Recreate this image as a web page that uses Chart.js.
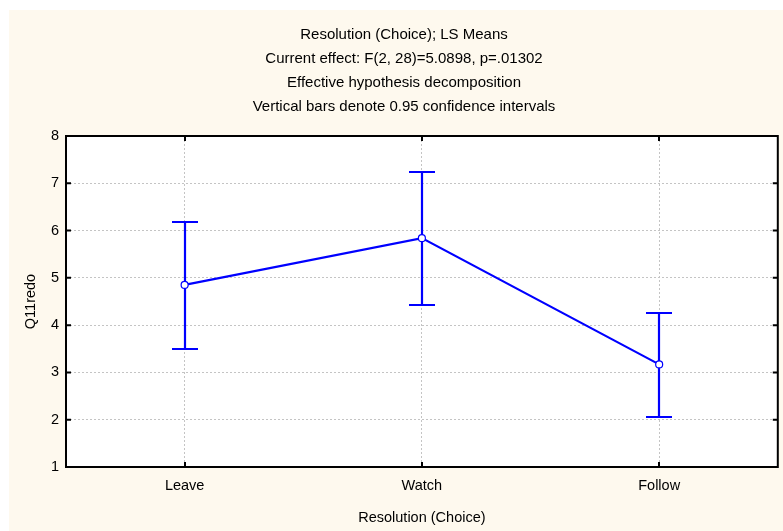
<!DOCTYPE html>
<html lang="en">
<head>
    <meta charset="UTF-8">
    <title>Resolution (Choice); LS Means</title>
    <script src="https://cdn.jsdelivr.net/npm/chart.js"></script>
    <style>
        body {
            margin: 0;
            padding: 0;
            background-color: #fff;
        }

        .chart-container {
            width: 783px;
            height: 531px;
        }
    </style>
</head>
<body>
<div class="chart-container">
    <canvas id="meansChart"></canvas>
</div>

<script>
    // Datos: medias y límites del intervalo de confianza al 95%
    const categories = ['Leave', 'Watch', 'Follow'];
    const means = [4.85, 5.84, 3.17];
    const lowerCI = [3.50, 4.43, 2.05];
    const upperCI = [6.19, 7.23, 4.26];
    const yMin = 1;
    const yMax = 8;

    const titleLines = [
        'Resolution (Choice); LS Means',
        'Current effect: F(2, 28)=5.0898, p=.01302',
        'Effective hypothesis decomposition',
        'Vertical bars denote 0.95 confidence intervals'
    ];
    const xTitle = 'Resolution (Choice)';
    const yTitle = 'Q11redo';

    const blue = '#0000FF';
    const fontFamily = '"Liberation Sans", Arial, sans-serif';

    // Fondo crema y área del gráfico blanca
    const backgroundPlugin = {
        id: 'background',
        beforeDraw(chart) {
            const ctx = chart.ctx;
            const a = chart.chartArea;
            ctx.save();
            ctx.fillStyle = '#FEF9EE';
            ctx.fillRect(9, 10, chart.width - 9, chart.height - 10);
            ctx.fillStyle = '#FFFFFF';
            ctx.fillRect(a.left, a.top, a.right - a.left, a.bottom - a.top);
            ctx.restore();
        }
    };

    // Barras verticales de los intervalos de confianza
    const errorBarsPlugin = {
        id: 'errorBars',
        beforeDatasetsDraw(chart) {
            const ctx = chart.ctx;
            const xs = chart.scales.x;
            const ys = chart.scales.y;
            ctx.save();
            ctx.strokeStyle = blue;
            ctx.lineWidth = 2.2;
            for (let i = 0; i < categories.length; i++) {
                const x = Math.round(xs.getPixelForValue(i));
                const yl = Math.round(ys.getPixelForValue(lowerCI[i]));
                const yu = Math.round(ys.getPixelForValue(upperCI[i]));
                ctx.beginPath();
                ctx.moveTo(x, yl);
                ctx.lineTo(x, yu);
                ctx.moveTo(x - 13, yu);
                ctx.lineTo(x + 13, yu);
                ctx.moveTo(x - 13, yl);
                ctx.lineTo(x + 13, yl);
                ctx.stroke();
            }
            ctx.restore();
        }
    };

    // Marco negro con marcas hacia dentro
    const framePlugin = {
        id: 'frame',
        afterDraw(chart) {
            const ctx = chart.ctx;
            const a = chart.chartArea;
            const xs = chart.scales.x;
            const ys = chart.scales.y;
            ctx.save();
            ctx.strokeStyle = '#000';
            ctx.lineWidth = 2;
            ctx.strokeRect(a.left, a.top, a.right - a.left, a.bottom - a.top);
            ctx.beginPath();
            ys.ticks.forEach(function (t) {
                const y = ys.getPixelForValue(t.value);
                ctx.moveTo(a.left, y);
                ctx.lineTo(a.left + 5, y);
                ctx.moveTo(a.right, y);
                ctx.lineTo(a.right - 5, y);
            });
            for (let i = 0; i < categories.length; i++) {
                const x = Math.round(xs.getPixelForValue(i));
                ctx.moveTo(x, a.bottom);
                ctx.lineTo(x, a.bottom - 5);
                ctx.moveTo(x, a.top);
                ctx.lineTo(x, a.top + 5);
            }
            ctx.stroke();
            ctx.restore();
        }
    };

    const ctx = document.getElementById('meansChart').getContext('2d');
    const meansChart = new Chart(ctx, {
        type: 'line',
        data: {
            labels: categories,
            datasets: [{
                label: yTitle,
                data: means,
                borderColor: blue,
                borderWidth: 2.2,
                tension: 0,
                fill: false,
                pointRadius: 3.5,
                pointBorderWidth: 1.2,
                pointBackgroundColor: '#FFFFFF',
                pointBorderColor: blue
            }]
        },
        options: {
            responsive: true,
            maintainAspectRatio: false,
            animation: false,
            layout: {
                padding: { left: 30, right: 5, top: 0, bottom: 0 }
            },
            plugins: {
                legend: { display: false },
                tooltip: { enabled: false },
                title: {
                    display: true,
                    text: titleLines,
                    color: '#000',
                    font: { family: fontFamily, size: 15, weight: 'normal', lineHeight: 1.6 },
                    padding: { top: 23, bottom: 17 }
                }
            },
            scales: {
                x: {
                    type: 'category',
                    offset: true,
                    grid: {
                        color: '#C4C4C4',
                        lineWidth: 1,
                        drawTicks: false
                    },
                    border: { display: false, dash: [2, 2] },
                    ticks: {
                        color: '#000',
                        padding: 10,
                        font: { family: fontFamily, size: 14.5 }
                    },
                    title: {
                        display: true,
                        text: xTitle,
                        color: '#000',
                        font: { family: fontFamily, size: 14.5 },
                        padding: { top: 15, bottom: 4 }
                    },
                    afterFit(scale) {
                        scale.height = 64;
                    }
                },
                y: {
                    min: yMin,
                    max: yMax,
                    grid: {
                        color: '#C4C4C4',
                        lineWidth: 1,
                        drawTicks: false
                    },
                    border: { display: false, dash: [2, 2] },
                    ticks: {
                        stepSize: 1,
                        color: '#000',
                        padding: 7,
                        font: { family: fontFamily, size: 14.5 }
                    },
                    title: {
                        display: true,
                        text: yTitle,
                        color: '#000',
                        font: { family: fontFamily, size: 14.5 },
                        padding: { top: -8, bottom: 0 }
                    },
                    afterFit(scale) {
                        scale.width = 36;
                    }
                }
            }
        },
        plugins: [backgroundPlugin, errorBarsPlugin, framePlugin]
    });
</script>
</body>
</html>
